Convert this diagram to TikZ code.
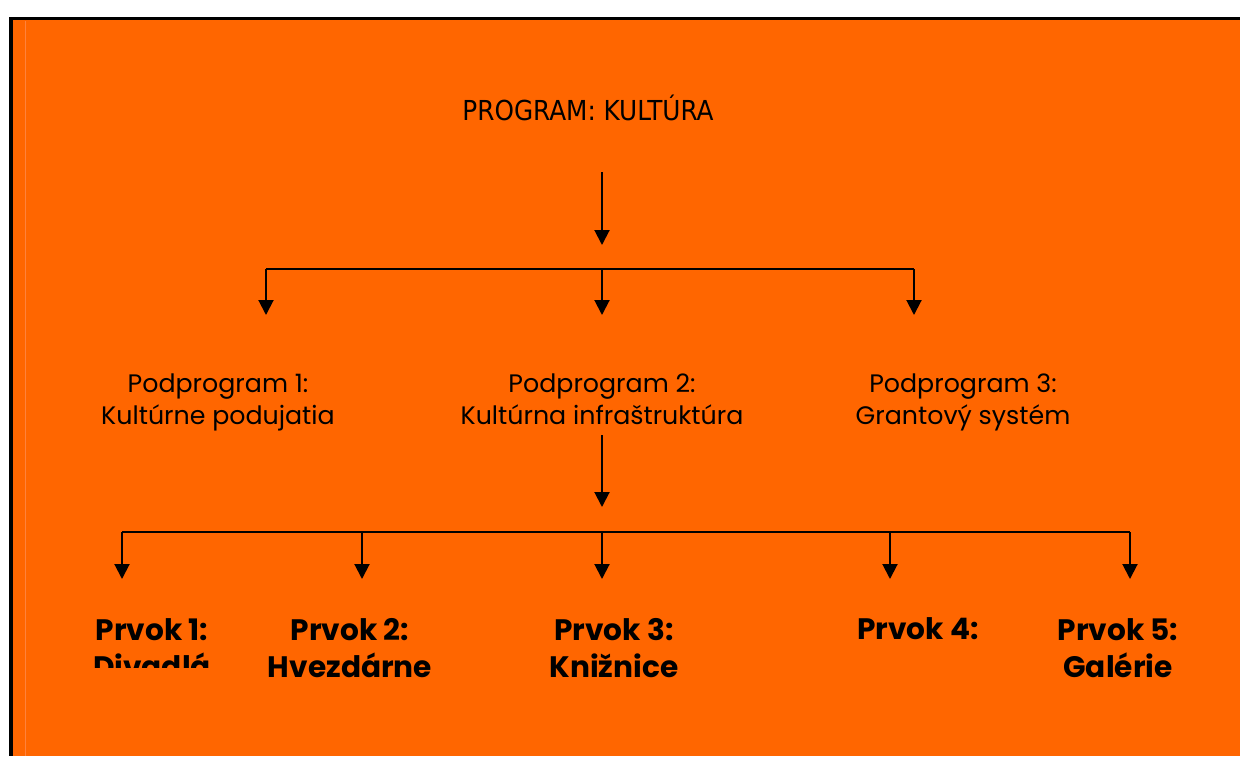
\documentclass[tikz,border=0pt]{standalone}
\usepackage{fontspec}
\setmainfont{Poppins}
\newfontfamily\titlefont{DejaVu Sans Condensed}
\usetikzlibrary{arrows.meta}
\definecolor{bgorange}{HTML}{FF6600}
\definecolor{faint}{RGB}{255,130,60}
\tikzset{
  arr/.style={line width=2pt,-{Triangle[width=15pt,length=15pt]}},
  bar/.style={line width=2pt},
  titletext/.style={inner sep=0pt,font=\titlefont\fontsize{27.5}{32}\selectfont},
  subtext/.style={inner sep=0pt,align=center,font=\fontsize{25.3}{32}\selectfont},
  elemtext/.style={inner sep=0pt,align=center,font=\bfseries\fontsize{29.6}{37}\selectfont},
}
\begin{document}
\begin{tikzpicture}[x=1pt,y=-1pt]
\useasboundingbox (0,0) rectangle (1240,756);
\fill[white] (0,0) rectangle (1240,756);
\fill[bgorange] (13,20) rectangle (1240,756);
\fill[black] (9,16.5) rectangle (1240,20);
\fill[black] (9,16.5) rectangle (13,756);
\draw[faint,line width=1pt] (25.5,21) -- (25.5,756);

\node[titletext,anchor=base] (prog) at (588,120) {PROGRAM: KULTÚRA};

\node[subtext] (sp1) at (218,402.5) {\strut Podprogram 1:\\Kultúrne podujatia\strut};
\node[subtext] (sp2) at (602,402.5) {\strut Podprogram 2:\\Kultúrna infraštruktúra\strut};
\node[subtext] (sp3) at (963,402.5) {\strut Podprogram 3:\\Grantový systém\strut};

\begin{scope}
\clip (20,560) rectangle (250,667);
\node[elemtext] (e1) at (152,651.5) {\strut Prvok 1:\\Divadlá\strut};
\end{scope}
\node[elemtext] (e2) at (350,651.5) {\strut Prvok 2:\\Hvezdárne\strut};
\node[elemtext] (e3) at (614,651.5) {\strut Prvok 3:\\Knižnice\strut};
\node[elemtext,anchor=base] (e4) at (918,639.5) {Prvok 4:};
\node[elemtext] (e5) at (1118,651.5) {\strut Prvok 5:\\Galérie\strut};

% level 1 connectors
\coordinate (s0) at (602,172);
\coordinate (t0) at (602,245);
\draw[arr] (s0) -- (t0);
\coordinate (b1) at (266,269);
\coordinate (b2) at (602,269);
\coordinate (b3) at (914,269);
\coordinate (t1) at (266,315);
\coordinate (t2) at (602,315);
\coordinate (t3) at (914,315);
\draw[bar] (b1) -- (b3);
\draw[arr] (b1) -- (t1);
\draw[arr] (b2) -- (t2);
\draw[arr] (b3) -- (t3);

% level 2 connectors
\coordinate (s4) at (602,435);
\coordinate (t4) at (602,507);
\draw[arr] (s4) -- (t4);
\coordinate (c1) at (122,532);
\coordinate (c2) at (362,532);
\coordinate (c3) at (602,532);
\coordinate (c4) at (890,532);
\coordinate (c5) at (1130,532);
\coordinate (u1) at (122,579);
\coordinate (u2) at (362,579);
\coordinate (u3) at (602,579);
\coordinate (u4) at (890,579);
\coordinate (u5) at (1130,579);
\draw[bar] (c1) -- (c5);
\draw[arr] (c1) -- (u1);
\draw[arr] (c2) -- (u2);
\draw[arr] (c3) -- (u3);
\draw[arr] (c4) -- (u4);
\draw[arr] (c5) -- (u5);
\end{tikzpicture}
\end{document}
